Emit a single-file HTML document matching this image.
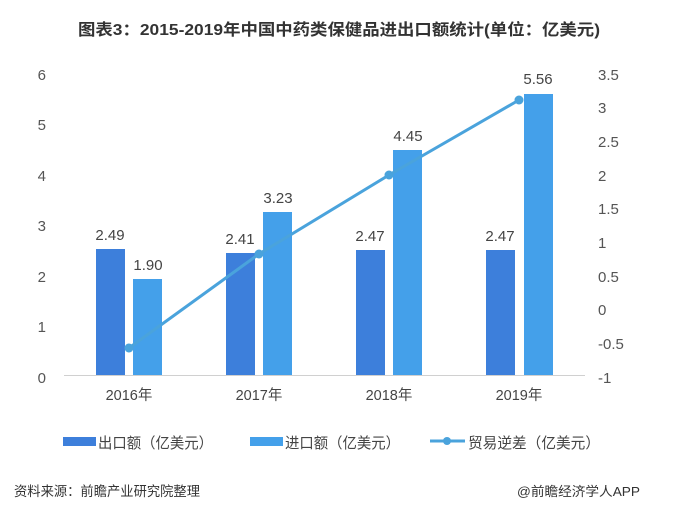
<!DOCTYPE html>
<html><head><meta charset="utf-8"><style>
body{margin:0;background:#fff;}
svg text{font-family:"Liberation Sans","Noto Sans CJK SC",sans-serif;}
</style></head><body>
<svg width="679" height="512" viewBox="0 0 679 512" xmlns="http://www.w3.org/2000/svg">
<rect width="679" height="512" fill="#fff"/>
<text x="78" y="35" font-size="16" font-weight="bold" fill="#333" textLength="522" lengthAdjust="spacingAndGlyphs">图表3：2015-2019年中国中药类保健品进出口额统计(单位：亿美元)</text>
<g font-size="15" fill="#555">
<text x="46" y="80" text-anchor="end">6</text>
<text x="46" y="130" text-anchor="end">5</text>
<text x="46" y="181" text-anchor="end">4</text>
<text x="46" y="231" text-anchor="end">3</text>
<text x="46" y="282" text-anchor="end">2</text>
<text x="46" y="332" text-anchor="end">1</text>
<text x="46" y="383" text-anchor="end">0</text>
<text x="598" y="80">3.5</text>
<text x="598" y="113">3</text>
<text x="598" y="147">2.5</text>
<text x="598" y="181">2</text>
<text x="598" y="214">1.5</text>
<text x="598" y="248">1</text>
<text x="598" y="282">0.5</text>
<text x="598" y="315">0</text>
<text x="598" y="349">-0.5</text>
<text x="598" y="383">-1</text>
</g>
<line x1="64" y1="375.5" x2="585" y2="375.5" stroke="#d0d0d0" stroke-width="1"/>
<g fill="#3d7fdb">
<rect x="96" y="249" width="29" height="126"/>
<rect x="226" y="253" width="29" height="122"/>
<rect x="356" y="250" width="29" height="125"/>
<rect x="486" y="250" width="29" height="125"/>
</g>
<g fill="#44a0ea">
<rect x="133" y="279" width="29" height="96"/>
<rect x="263" y="212" width="29" height="163"/>
<rect x="393" y="150" width="29" height="225"/>
<rect x="524" y="94" width="29" height="281"/>
</g>
<g font-size="15" fill="#444" text-anchor="middle">
<text x="110" y="240">2.49</text>
<text x="148" y="270">1.90</text>
<text x="240" y="244">2.41</text>
<text x="278" y="203">3.23</text>
<text x="370" y="241">2.47</text>
<text x="408" y="141">4.45</text>
<text x="500" y="241">2.47</text>
<text x="538" y="84">5.56</text>
</g>
<polyline points="129,348 259,254 389,175 519,100" fill="none" stroke="#4aa3dc" stroke-width="3"/>
<g fill="#4aa3dc">
<circle cx="129" cy="348" r="4.5"/><circle cx="259" cy="254" r="4.5"/><circle cx="389" cy="175" r="4.5"/><circle cx="519" cy="100" r="4.5"/>
</g>
<g font-size="14.5" fill="#444" text-anchor="middle">
<text x="129" y="400">2016年</text>
<text x="259" y="400">2017年</text>
<text x="389" y="400">2018年</text>
<text x="519" y="400">2019年</text>
</g>
<rect x="63" y="437" width="33" height="9" fill="#3d7fdb"/>
<text x="98" y="448" font-size="15" fill="#444" textLength="115" lengthAdjust="spacingAndGlyphs">出口额（亿美元）</text>
<rect x="250" y="437" width="33" height="9" fill="#44a0ea"/>
<text x="285" y="448" font-size="15" fill="#444" textLength="115" lengthAdjust="spacingAndGlyphs">进口额（亿美元）</text>
<line x1="430" y1="441" x2="465" y2="441" stroke="#4aa3dc" stroke-width="3"/>
<circle cx="447" cy="441" r="4" fill="#4aa3dc"/>
<text x="468" y="448" font-size="15" fill="#444" textLength="132" lengthAdjust="spacingAndGlyphs">贸易逆差（亿美元）</text>
<text x="14" y="496" font-size="13.5" fill="#333" textLength="186" lengthAdjust="spacingAndGlyphs">资料来源：前瞻产业研究院整理</text>
<text x="517" y="496" font-size="13" fill="#333" textLength="123" lengthAdjust="spacingAndGlyphs">@前瞻经济学人APP</text>
</svg>
</body></html>
